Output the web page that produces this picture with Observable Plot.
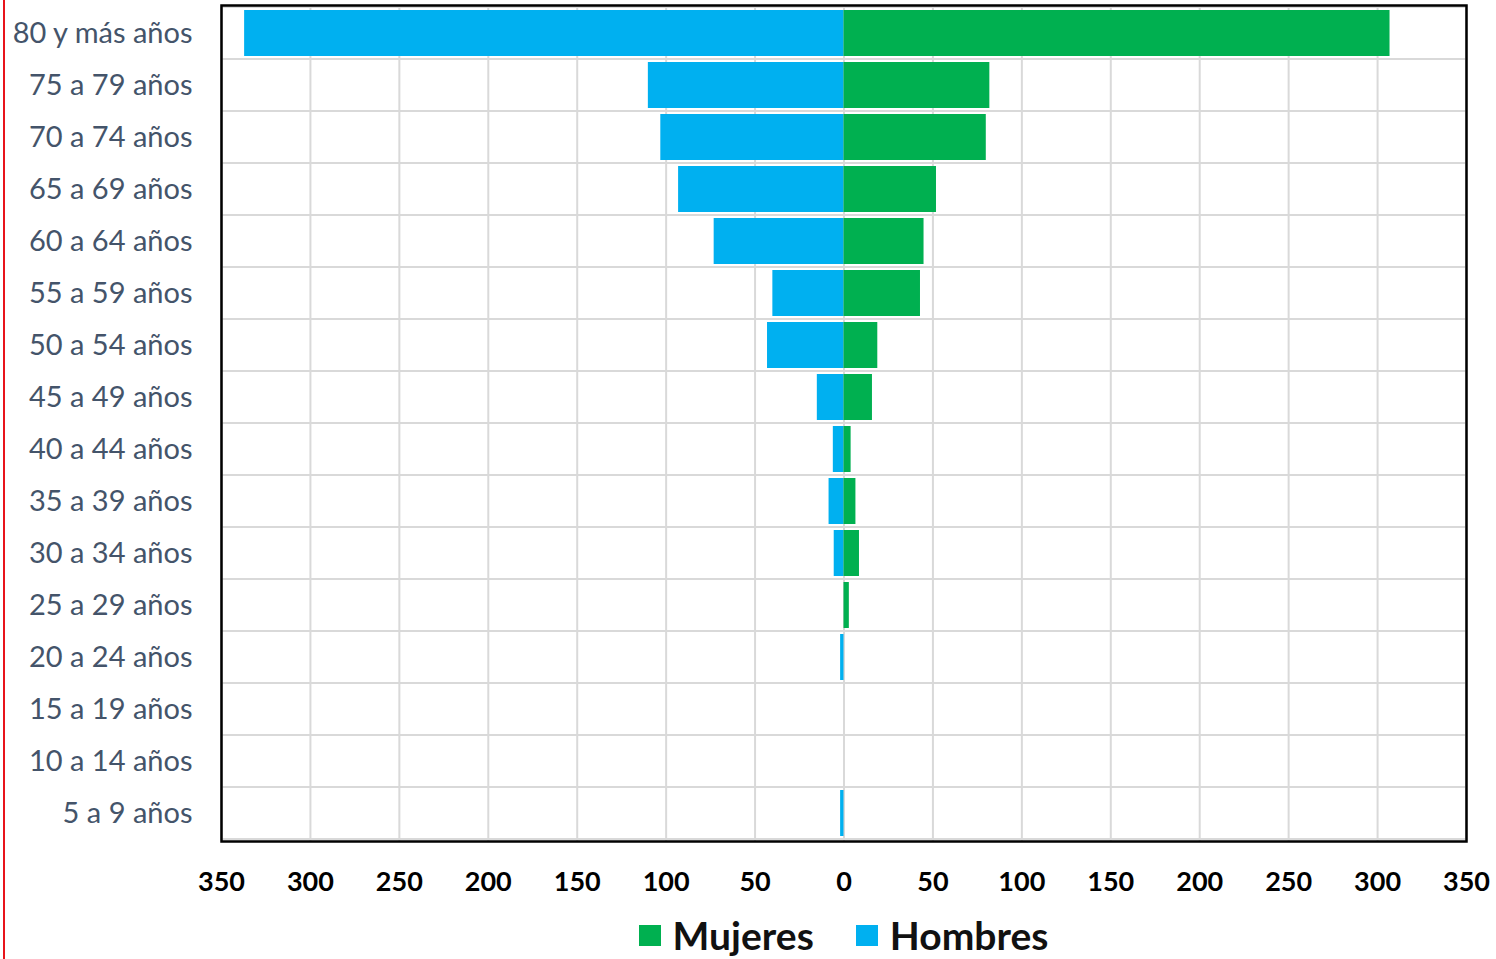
<!DOCTYPE html>
<html>
<head>
<meta charset="utf-8">
<script src="https://cdn.jsdelivr.net/npm/d3@7"></script>
<script src="https://cdn.jsdelivr.net/npm/@observablehq/plot@0.6"></script>
<style>
  html, body { margin: 0; padding: 0; background: #fff; }
  #wrap { position: relative; width: 1496px; height: 959px; overflow: hidden; }
  #redline { position: absolute; left: 3px; top: 0; width: 2px; height: 959px; background: #e8141b; }
  #legend { position: absolute; left: 221px; width: 1245px; top: 912px; display: flex; justify-content: center; gap: 42px;
            font-family: Lato, "Open Sans", sans-serif; font-weight: bold; font-size: 39px; color: #111; }
  #legend .item { display: flex; align-items: center; gap: 12px; }
  #legend .sw { width: 22px; height: 21px; display: inline-block; }
</style>
</head>
<body>
<div id="wrap">
  <div id="chart"></div>
  <div id="legend"></div>
  <div id="redline"></div>
</div>
<script>
const categories = ["80 y más años","75 a 79 años","70 a 74 años","65 a 69 años","60 a 64 años","55 a 59 años","50 a 54 años","45 a 49 años","40 a 44 años","35 a 39 años","30 a 34 años","25 a 29 años","20 a 24 años","15 a 19 años","10 a 14 años","5 a 9 años"];
const hombres = [337, 110, 103, 93, 73, 40, 43, 15, 6, 8.4, 5.5, 0, 1.9, 0, 0, 1.9];
const mujeres = [307, 82, 80, 52, 45, 43, 19, 16, 4, 6.7, 8.7, 3, 0, 0, 0, 0];
const xTicks = [-350,-300,-250,-200,-150,-100,-50,0,50,100,150,200,250,300,350];
const seriesNames = ["Mujeres", "Hombres"];
const seriesColors = ["#00b050", "#00b0f0"];

const rows = [];
categories.forEach((c, i) => {
  rows.push({cat: c, sex: "Hombres", v: -hombres[i]});
  rows.push({cat: c, sex: "Mujeres", v: mujeres[i]});
});

const chart = Plot.plot({
  width: 1496,
  height: 905,
  marginTop: 5,
  marginBottom: 64,
  marginLeft: 221,
  marginRight: 30,
  style: {fontFamily: "Lato, 'Open Sans', sans-serif", background: "#fff"},
  x: {domain: [-350, 350], ticks: xTicks},
  y: {domain: categories, padding: 0},
  color: {domain: seriesNames, range: seriesColors},
  marks: [
    Plot.barX(categories, {x1: -350, x2: 350, y: d => d, fill: "none", stroke: "#d9d9d9", strokeWidth: 2}),
    Plot.ruleX(xTicks, {stroke: "#d9d9d9", strokeWidth: 2}),
    Plot.barX(rows, {x: "v", y: "cat", fill: "sex", insetTop: 3, insetBottom: 3}),
    Plot.frame({stroke: "#000", strokeWidth: 2.5}),
    Plot.axisX({ticks: xTicks, tickSize: 0, tickPadding: 30, tickFormat: d => Math.abs(d), fontSize: 27, fontWeight: "bold", fill: "#000", label: null}),
    Plot.axisY({tickSize: 0, tickPadding: 29, fontSize: 29, fill: "#44546a", label: null})
  ]
});
document.getElementById("chart").appendChild(chart);

const legend = document.getElementById("legend");
seriesNames.forEach((n, i) => {
  const it = document.createElement("div");
  it.className = "item";
  const sw = document.createElement("span");
  sw.className = "sw";
  sw.style.background = seriesColors[i];
  const t = document.createElement("span");
  t.textContent = n;
  it.appendChild(sw); it.appendChild(t);
  legend.appendChild(it);
});
</script>
</body>
</html>
